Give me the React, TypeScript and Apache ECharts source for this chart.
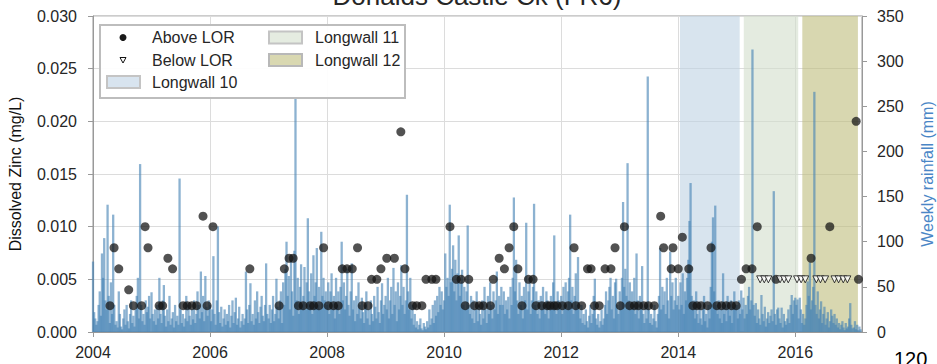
import React, { useEffect, useRef } from 'react';
import * as echarts from 'echarts';

const chartTitle = 'Donalds Castle Ck (FR6)';
const leftAxisName = 'Dissolved Zinc (mg/L)';
const rightAxisName = 'Weekly rainfall (mm)';
const cornerText = '120';

// Sampling dates (decimal years) and dissolved zinc (mg/L)
const aboveDates = [
  2004.29, 2004.36, 2004.44, 2004.61, 2004.69, 2004.83, 2004.89, 2004.94,
  2005.13, 2005.19, 2005.28, 2005.36, 2005.54, 2005.61, 2005.69, 2005.77, 2005.88, 2005.95,
  2006.05, 2006.68,
  2007.18, 2007.27, 2007.35, 2007.42, 2007.51, 2007.59, 2007.71, 2007.77, 2007.86, 2007.94,
  2008.02, 2008.11, 2008.19, 2008.26, 2008.34, 2008.43, 2008.52, 2008.60, 2008.70, 2008.76, 2008.85, 2008.92,
  2009.02, 2009.15, 2009.26, 2009.33, 2009.46, 2009.53, 2009.62, 2009.69, 2009.79, 2009.86,
  2010.10, 2010.21, 2010.29, 2010.36, 2010.42, 2010.52, 2010.60, 2010.67, 2010.79, 2010.84, 2010.94,
  2011.03, 2011.11, 2011.19, 2011.26, 2011.33, 2011.44, 2011.52, 2011.57, 2011.67, 2011.76, 2011.81, 2011.88, 2011.93,
  2012.02, 2012.12, 2012.22, 2012.25, 2012.35, 2012.45, 2012.51, 2012.57, 2012.65, 2012.75, 2012.85, 2012.92,
  2013.01, 2013.08, 2013.17, 2013.25, 2013.32, 2013.41, 2013.49, 2013.59, 2013.70, 2013.75, 2013.88, 2013.91,
  2014.00, 2014.07, 2014.18, 2014.25, 2014.32, 2014.39, 2014.50, 2014.56, 2014.66, 2014.74, 2014.82, 2014.91, 2014.99,
  2015.08, 2015.16, 2015.26, 2015.35, 2015.67,
  2016.27, 2016.59, 2017.04, 2017.08,
];
const aboveValues = [
  0.0025, 0.008, 0.006, 0.004, 0.0025, 0.0025, 0.010, 0.008,
  0.0025, 0.0025, 0.007, 0.006, 0.0025, 0.0025, 0.0025, 0.0025, 0.011, 0.0025,
  0.010, 0.006,
  0.0025, 0.006, 0.007, 0.007, 0.0025, 0.0025, 0.0025, 0.0025, 0.0025, 0.008,
  0.0025, 0.0025, 0.0025, 0.006, 0.006, 0.006, 0.008, 0.0025, 0.0025, 0.005, 0.005, 0.006,
  0.007, 0.007, 0.019, 0.006, 0.0025, 0.0025, 0.0025, 0.005, 0.005, 0.005,
  0.010, 0.005, 0.005, 0.0025, 0.005, 0.0025, 0.0025, 0.0025, 0.0025, 0.005, 0.007,
  0.006, 0.008, 0.010, 0.006, 0.0025, 0.005, 0.005, 0.0025, 0.0025, 0.0025, 0.0025, 0.0025, 0.0025,
  0.0025, 0.0025, 0.008, 0.0025, 0.0025, 0.006, 0.006, 0.0025, 0.0025, 0.006, 0.006, 0.008,
  0.0025, 0.010, 0.0025, 0.0025, 0.0025, 0.0025, 0.0025, 0.0025, 0.011, 0.008, 0.006, 0.008,
  0.006, 0.009, 0.006, 0.0025, 0.0025, 0.0025, 0.0025, 0.008, 0.0025, 0.0025, 0.0025, 0.0025, 0.0025,
  0.005, 0.006, 0.006, 0.010, 0.005,
  0.007, 0.010, 0.020, 0.005,
];
const belowDates = [
  2015.40, 2015.47, 2015.54, 2015.74, 2015.81, 2015.88,
  2016.03, 2016.10, 2016.17, 2016.36, 2016.43, 2016.51,
  2016.67, 2016.74, 2016.82, 2016.89,
];
const belowValues = [
  0.005, 0.005, 0.005, 0.005, 0.005, 0.005,
  0.005, 0.005, 0.005, 0.005, 0.005, 0.005,
  0.005, 0.005, 0.005, 0.005,
];

// Longwall mining periods (decimal years)
const longwallNames = ['Longwall 10', 'Longwall 11', 'Longwall 12'];
const longwallStart = [2014.03, 2015.12, 2016.12];
const longwallEnd = [2015.05, 2016.05, 2017.07];

// Weekly rainfall (mm), one array per year starting in the first week of January
const rain2004 = [78, 22, 15, 8, 12, 30, 45, 18, 87, 60, 104, 35, 25,
  141, 40, 10, 55, 20, 130, 30, 8, 12, 5, 45, 20, 6,
  3, 15, 25, 8, 30, 12, 4, 20, 35, 10, 18, 6, 25,
  40, 60, 15, 186, 30, 12, 20, 8, 35, 22, 28, 40, 15];
const rain2005 = [44, 20, 12, 25, 8, 30, 15, 60, 20, 10, 35, 52, 18,
  6, 25, 12, 40, 8, 15, 22, 5, 30, 12, 18, 8, 170,
  25, 10, 20, 6, 15, 40, 12, 30, 18, 8, 25, 14, 35,
  10, 20, 45, 30, 15, 67, 22, 40, 12, 62, 28, 18, 35];
const rain2006 = [30, 12, 25, 84, 20, 8, 35, 117, 22, 10, 28, 6, 15,
  25, 8, 20, 12, 30, 5, 18, 35, 10, 22, 38, 8, 15,
  28, 5, 12, 20, 8, 15, 67, 25, 10, 30, 54, 12, 20,
  8, 35, 15, 45, 22, 10, 28, 40, 18, 12, 30, 76, 20];
const rain2007 = [15, 30, 10, 25, 40, 12, 20, 59, 28, 15, 35, 45, 10,
  55, 30, 70, 100, 40, 62, 25, 80, 45, 18, 90, 259, 35,
  60, 20, 50, 75, 30, 40, 72, 25, 55, 126, 45, 30, 65,
  20, 85, 40, 55, 93, 30, 50, 25, 111, 40, 60, 35, 45];
const rain2008 = [30, 55, 20, 45, 65, 25, 40, 15, 60, 30, 45, 20, 50,
  100, 35, 55, 25, 40, 70, 30, 18, 45, 76, 25, 35, 12,
  40, 20, 55, 30, 15, 38, 22, 10, 30, 45, 15, 25, 8,
  35, 20, 12, 40, 28, 15, 50, 22, 10, 35, 54, 20, 30];
const rain2009 = [40, 25, 60, 15, 35, 50, 20, 71, 30, 45, 12, 55, 25,
  40, 74, 30, 50, 20, 35, 152, 45, 25, 60, 15, 30, 8,
  20, 5, 12, 3, 8, 15, 4, 2, 10, 6, 3, 12, 5,
  25, 8, 15, 30, 10, 35, 18, 40, 22, 50, 30, 45, 25];
const rain2010 = [35, 87, 50, 60, 40, 141, 55, 70, 96, 45, 80, 35, 65,
  107, 40, 55, 69, 30, 50, 25, 45, 118, 30, 20, 40, 15,
  35, 10, 25, 45, 12, 30, 20, 8, 35, 15, 50, 25, 10,
  40, 20, 55, 30, 15, 45, 25, 35, 67, 20, 40, 30, 50];
const rain2011 = [30, 45, 20, 35, 25, 39, 15, 50, 30, 60, 149, 45, 80,
  35, 20, 55, 30, 40, 15, 50, 35, 121, 25, 45, 60, 20,
  35, 50, 142, 30, 45, 20, 35, 15, 40, 25, 50, 30, 20,
  45, 35, 15, 30, 40, 25, 55, 107, 30, 20, 45, 35, 25];
const rain2012 = [40, 20, 50, 30, 55, 25, 45, 60, 130, 35, 50, 20, 40,
  65, 30, 83, 25, 15, 30, 10, 20, 8, 25, 12, 5, 18,
  30, 10, 20, 40, 59, 15, 8, 20, 5, 12, 25, 8, 15,
  30, 45, 20, 35, 50, 60, 25, 40, 15, 55, 59, 30, 20];
const rain2013 = [45, 25, 60, 144, 50, 70, 40, 187, 35, 55, 25, 45, 30,
  60, 20, 87, 35, 15, 40, 25, 73, 20, 10, 30, 15, 283,
  25, 10, 20, 8, 15, 30, 12, 5, 20, 40, 93, 25, 50,
  30, 45, 20, 60, 35, 15, 89, 40, 55, 25, 35, 60, 30];
const rain2014 = [40, 25, 55, 30, 65, 20, 45, 35, 60, 80, 123, 165, 40,
  25, 35, 15, 45, 20, 10, 30, 15, 8, 25, 40, 12, 20,
  5, 30, 15, 50, 100, 127, 45, 140, 30, 20, 35, 15, 25,
  10, 65, 20, 30, 12, 40, 25, 18, 35, 10, 28, 45, 30];
const rain2015 = [30, 15, 35, 20, 46, 25, 38, 15, 30, 20, 40, 50, 25,
  35, 313, 30, 18, 32, 10, 25, 15, 8, 41, 20, 12, 28,
  6, 15, 22, 10, 18, 25, 12, 156, 20, 8, 25, 27, 15,
  10, 27, 5, 20, 12, 8, 15, 25, 10, 30, 41, 20, 35];
const rain2016 = [38, 30, 36, 15, 38, 25, 10, 20, 8, 15, 30, 56, 40,
  77, 25, 35, 50, 266, 30, 20, 45, 15, 25, 34, 10, 20,
  28, 8, 15, 22, 5, 12, 25, 18, 10, 20, 8, 15, 5,
  10, 3, 8, 12, 5, 2, 10, 4, 6, 15, 32, 8, 4];
const rain2017 = [5, 12, 3, 8, 2, 6, 3];

const rainYears = [2004, 2005, 2006, 2007, 2008, 2009, 2010, 2011, 2012, 2013, 2014, 2015, 2016, 2017];
const rainByYear = [rain2004, rain2005, rain2006, rain2007, rain2008, rain2009, rain2010,
  rain2011, rain2012, rain2013, rain2014, rain2015, rain2016, rain2017];

const FONT = "'Liberation Sans', Arial, sans-serif";
const AXIS_GRAY = '#999999';
const GRID_GRAY = '#dcdcdc';
const RAIN_BLUE = 'rgba(70,130,180,0.62)';
const RIGHT_NAME_BLUE = '#4a86c6';
const shadeFill = ['rgba(190,210,227,0.6)', 'rgba(210,222,203,0.6)', 'rgba(190,188,123,0.6)'];
const swatchFill = ['#d8e4ef', '#e5ece1', '#d9d8b1'];

export default function App() {
  const ref = useRef<HTMLDivElement>(null);

  useEffect(() => {
    if (!ref.current) return;
    const chart = echarts.init(ref.current, undefined, { renderer: 'svg' });

    const rainData: number[][] = [];
    rainByYear.forEach((arr, k) => {
      arr.forEach((v, w) => {
        rainData.push([rainYears[k] + (w * 7) / 365.25, v]);
      });
    });
    const above = aboveDates.map((d, i) => [d, aboveValues[i]]);
    const below = belowDates.map((d, i) => [d, belowValues[i]]);

    const text = (t: string, x: number, y: number, size = 16, color = '#262626', align = 'left') => ({
      type: 'text',
      x,
      y,
      z: 100,
      style: { text: t, fill: color, font: `${size}px ${FONT}`, textAlign: align, textVerticalAlign: 'middle' },
    });

    const option: any = {
      animation: false,
      textStyle: { fontFamily: FONT },
      grid: {
        left: 93, top: 16, width: 769, height: 316,
        outerBoundsMode: 'none', containLabel: false,
        show: true, borderColor: AXIS_GRAY, borderWidth: 1, backgroundColor: 'transparent',
      },
      xAxis: {
        type: 'value', min: 2004, max: 2017.14, interval: 2,
        axisLine: { show: true, lineStyle: { color: AXIS_GRAY } },
        axisTick: { show: true, length: 5, lineStyle: { color: AXIS_GRAY } },
        axisLabel: {
          fontSize: 16, color: '#262626', margin: 12, showMaxLabel: false,
          formatter: (v: number) => (Math.abs(v - Math.round(v)) < 1e-6 ? String(Math.round(v)) : ''),
        },
        splitLine: { show: true, lineStyle: { color: GRID_GRAY } },
      },
      yAxis: [
        {
          type: 'value', min: 0, max: 0.03, interval: 0.005,
          name: leftAxisName, nameLocation: 'middle', nameRotate: 90, nameGap: 70,
          nameTextStyle: { fontSize: 16, color: '#111' },
          axisLine: { show: true, lineStyle: { color: AXIS_GRAY } },
          axisTick: { show: true, length: 5, lineStyle: { color: AXIS_GRAY } },
          axisLabel: { fontSize: 16, color: '#262626', margin: 16, formatter: (v: number) => v.toFixed(3) },
          splitLine: { show: true, lineStyle: { color: GRID_GRAY } },
        },
        {
          type: 'value', position: 'right', min: 0, max: 350, interval: 50,
          name: rightAxisName, nameLocation: 'middle', nameRotate: 90, nameGap: 57,
          nameTextStyle: { fontSize: 16, color: RIGHT_NAME_BLUE },
          axisLine: { show: true, lineStyle: { color: AXIS_GRAY } },
          axisTick: { show: true, length: 5, lineStyle: { color: AXIS_GRAY } },
          axisLabel: { fontSize: 16, color: '#262626', margin: 15 },
          splitLine: { show: false },
        },
      ],
      series: [
        {
          type: 'line', data: [], z: 0, silent: true,
          markArea: {
            silent: true,
            data: longwallNames.map((n, i) => [
              { name: n, xAxis: longwallStart[i], itemStyle: { color: shadeFill[i] }, label: { show: false } },
              { xAxis: longwallEnd[i] },
            ]),
          },
        },
        {
          name: 'Weekly rainfall', type: 'bar', yAxisIndex: 1, data: rainData,
          barWidth: 2.3, itemStyle: { color: RAIN_BLUE }, z: 2, silent: true,
        },
        {
          name: 'Above LOR', type: 'scatter', data: above, symbolSize: 9,
          itemStyle: { color: 'rgba(20,20,20,0.92)' }, z: 5, silent: true,
        },
        {
          name: 'Below LOR', type: 'scatter', data: below, symbol: 'triangle', symbolRotate: 180, symbolSize: 7,
          itemStyle: { color: '#ffffff', borderColor: '#111', borderWidth: 1 }, z: 6, silent: true,
        },
      ],
      graphic: [
        text(chartTitle, 477, -4.5, 26, '#262626', 'center'),
        text(cornerText, 894, 359, 20, '#000'),
        {
          type: 'rect', z: 90,
          shape: { x: 100, y: 25, width: 305, height: 73 },
          style: { fill: 'rgba(255,255,255,0.92)', stroke: '#bdbdbd', lineWidth: 2 },
        },
        { type: 'circle', z: 100, shape: { cx: 123, cy: 37.5, r: 3.5 }, style: { fill: '#1a1a1a' } },
        text('Above LOR', 152, 37.5),
        {
          type: 'polygon', z: 100,
          shape: { points: [[120, 57.5], [126, 57.5], [123, 63]] },
          style: { fill: '#fff', stroke: '#111', lineWidth: 1 },
        },
        text('Below LOR', 152, 60),
        {
          type: 'rect', z: 100, shape: { x: 107, y: 76, width: 33, height: 12 },
          style: { fill: swatchFill[0], stroke: '#c4c4c4', lineWidth: 2 },
        },
        text(longwallNames[0], 152, 82),
        {
          type: 'rect', z: 100, shape: { x: 269, y: 31.5, width: 33, height: 12 },
          style: { fill: swatchFill[1], stroke: '#c4c4c4', lineWidth: 2 },
        },
        text(longwallNames[1], 315, 37.5),
        {
          type: 'rect', z: 100, shape: { x: 269, y: 54, width: 33, height: 12 },
          style: { fill: swatchFill[2], stroke: '#b8b8b8', lineWidth: 2 },
        },
        text(longwallNames[2], 315, 60),
      ],
    };

    chart.setOption(option);
    return () => chart.dispose();
  }, []);

  return (
    <div
      ref={ref}
      style={{ position: 'fixed', left: 0, top: 0, width: 937, height: 364, background: '#fff' }}
    />
  );
}
